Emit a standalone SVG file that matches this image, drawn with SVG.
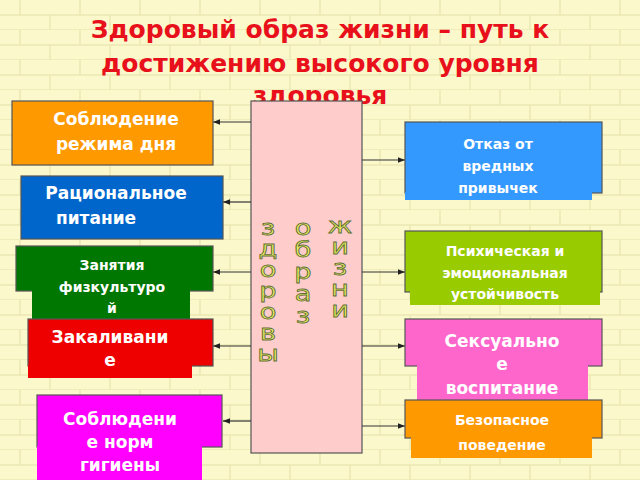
<svg xmlns="http://www.w3.org/2000/svg" width="640" height="480" viewBox="0 0 640 480">
<defs>
<pattern id="brick" width="60" height="30" patternUnits="userSpaceOnUse">
<rect width="60" height="30" fill="#fbf8cc"/>
<path d="M0 15H60M0 30H60M20 0V15M50 15V30" stroke="#ece8b4" stroke-width="1.5" fill="none"/>
</pattern>
<marker id="ah" viewBox="0 0 10 10" refX="10" refY="5" markerWidth="6" markerHeight="6" orient="auto"><path d="M0 1L10 5L0 9z" fill="#222"/></marker>
</defs>
<style>
.b{stroke:#555;stroke-width:1.2}
.t{font-family:"DejaVu Sans",sans-serif;font-weight:bold;fill:#fff;text-anchor:middle}
.v{font-family:"DejaVu Sans",sans-serif;font-size:21px;fill:#eef060;stroke:#5d6e38;stroke-width:0.8;text-anchor:middle}
.c{stroke:#333;stroke-width:1.2;fill:none;marker-end:url(#ah)}
</style>
<rect width="640" height="480" fill="url(#brick)"/>
<g id="title" font-family="DejaVu Sans,sans-serif" font-weight="bold" font-size="25" fill="#e8101a" text-anchor="middle">
<text x="320" y="38">Здоровый образ жизни – путь к</text>
<text x="320" y="72">достижению высокого уровня</text>
<text x="320" y="104">здоровья</text>
</g>
<g id="center">
<rect x="251" y="101" width="111" height="352" fill="#ffcccc" class="b"/>
<g transform="translate(268 0) scale(1.3 1)"><text class="v"><tspan x="0" y="235">з</tspan><tspan x="0" y="256">д</tspan><tspan x="0" y="277">о</tspan><tspan x="0" y="298">р</tspan><tspan x="0" y="319">о</tspan><tspan x="0" y="340">в</tspan><tspan x="0" y="361">ы</tspan></text></g>
<g transform="translate(303 0) scale(1.3 1)"><text class="v"><tspan x="0" y="235">о</tspan><tspan x="0" y="257">б</tspan><tspan x="0" y="279">р</tspan><tspan x="0" y="301">а</tspan><tspan x="0" y="323">з</tspan></text></g>
<g transform="translate(340 0) scale(1.3 1)"><text class="v"><tspan x="0" y="233">ж</tspan><tspan x="0" y="254">и</tspan><tspan x="0" y="275">з</tspan><tspan x="0" y="296">н</tspan><tspan x="0" y="317">и</tspan></text></g>
</g>
<g id="connectors">
<path class="c" d="M251 122H213"/>
<path class="c" d="M251 202H223"/>
<path class="c" d="M251 272H213"/>
<path class="c" d="M251 346H213"/>
<path class="c" d="M251 421H223"/>
<path class="c" d="M362 160H405"/>
<path class="c" d="M362 272H405"/>
<path class="c" d="M362 346H405"/>
<path class="c" d="M362 426H405"/>
</g>
<g id="n1"><rect x="12" y="101" width="201" height="64" fill="#ff9900" class="b"/>
<text class="t" font-size="17"><tspan x="116" y="125">Соблюдение</tspan><tspan x="116" y="150">режима дня</tspan></text></g>
<g id="n2"><rect x="21" y="176" width="202" height="63" fill="#0066cc" class="b"/>
<text class="t" font-size="17"><tspan x="116" y="199">Рациональное</tspan><tspan x="96" y="224">питание</tspan></text></g>
<g id="n3"><rect x="16" y="246" width="197" height="45" fill="#007700" class="b"/>
<rect x="32" y="290" width="158" height="30" fill="#007700"/>
<text class="t" font-size="14"><tspan x="112" y="270">Занятия</tspan><tspan x="112" y="292">физкультуро</tspan><tspan x="112" y="313">й</tspan></text></g>
<g id="n4"><rect x="28" y="319" width="185" height="47" fill="#ee0000" class="b"/>
<rect x="28" y="365" width="164" height="13" fill="#ee0000"/>
<text class="t" font-size="17"><tspan x="110" y="343">Закаливани</tspan><tspan x="110" y="366">е</tspan></text></g>
<g id="n5"><rect x="37" y="395" width="185" height="52" fill="#ff00ff" class="b"/>
<rect x="37" y="446" width="165" height="34" fill="#ff00ff"/>
<text class="t" font-size="17"><tspan x="120" y="425">Соблюдени</tspan><tspan x="120" y="448">е норм</tspan><tspan x="120" y="471">гигиены</tspan></text></g>
<g id="n6"><rect x="405" y="122" width="197" height="71" fill="#3399ff" class="b"/>
<rect x="405" y="192" width="187" height="8" fill="#3399ff"/>
<text class="t" font-size="14"><tspan x="498" y="149">Отказ от</tspan><tspan x="498" y="171">вредных</tspan><tspan x="498" y="193">привычек</tspan></text></g>
<g id="n7"><rect x="405" y="231" width="197" height="61" fill="#99cc00" class="b"/>
<rect x="410" y="291" width="190" height="14" fill="#99cc00"/>
<text class="t" font-size="14"><tspan x="505" y="256">Психическая и</tspan><tspan x="505" y="278">эмоциональная</tspan><tspan x="505" y="299">устойчивость</tspan></text></g>
<g id="n8"><rect x="405" y="319" width="197" height="47" fill="#ff66cc" class="b"/>
<rect x="417" y="365" width="171" height="35" fill="#ff66cc"/>
<text class="t" font-size="17"><tspan x="502" y="347">Сексуально</tspan><tspan x="502" y="370">е</tspan><tspan x="502" y="394">воспитание</tspan></text></g>
<g id="n9"><rect x="405" y="400" width="197" height="38" fill="#ff9900" class="b"/>
<rect x="411" y="437" width="181" height="21" fill="#ff9900"/>
<text class="t" font-size="14"><tspan x="502" y="425">Безопасное</tspan><tspan x="502" y="450">поведение</tspan></text></g>
</svg>
